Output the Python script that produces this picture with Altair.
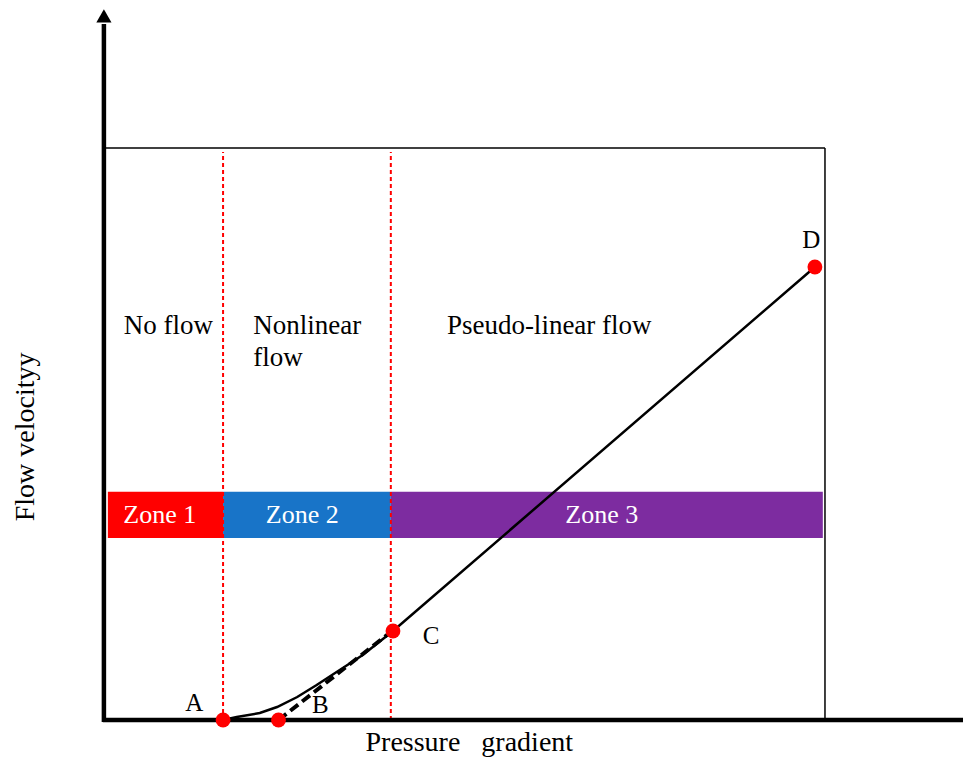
import altair as alt
import pandas as pd

# ---------------- data (chart units: x = pressure gradient, y = flow velocity) ----------------
zone_names = ["Zone 1", "Zone 2", "Zone 3"]
zone_start = [0.4, 16.4, 39.7]
zone_end = [16.4, 39.7, 99.7]
zone_colors = ["#FF0000", "#1874C8", "#7D2CA0"]
zone_band = [31.8, 39.9]
zone_label_x = [7.6, 27.4, 69.0]

boundary_x = [16.4, 39.7]
boundary_top = 99.3

box_right = 100.0
box_top = 100.0

axis_x_end = 120.5
axis_y_end = 121.7
arrow_y_tip = 123.1

curve_x = [16.4, 18.3, 21.5, 23.9, 26.7, 29.4, 32.6, 35.8, 40.0, 98.6]
curve_y = [0.0, 0.52, 1.22, 2.27, 4.02, 6.12, 8.74, 11.36, 15.56, 79.2]

tangent_x = [24.1, 39.2]
tangent_y = [0.0, 14.9]

point_names = ["A", "B", "C", "D"]
point_x = [16.4, 24.1, 40.0, 98.6]
point_y = [0.0, 0.0, 15.56, 79.2]
label_x = [12.4, 29.9, 45.3, 98.1]
label_y = [3.0, 2.6, 14.7, 83.9]

center_text = ["No flow", "Pseudo-linear flow"]
center_x = [8.8, 61.7]
center_y = [68.9, 68.9]
left_text = ["Nonlinear", "flow"]
left_x = [20.6, 20.6]
left_y = [68.9, 63.3]

x_title = "Pressure\u00a0\u00a0 gradient"
x_title_pos = [50.6, -4.0]
y_title = "Flow velocityy"
y_title_pos = [-11.0, 49.5]

# ---------------- scales ----------------
XS = alt.Scale(domain=[-13.47, 119.17], nice=False, zero=False)
YS = alt.Scale(domain=[-7.17, 124.48], nice=False, zero=False)
FONT = "Liberation Serif"


def X(f="x"):
    return alt.X(f"{f}:Q", scale=XS, axis=None)


def Y(f="y"):
    return alt.Y(f"{f}:Q", scale=YS, axis=None)


zones = pd.DataFrame({"name": zone_names, "x": zone_start, "x2": zone_end,
                      "color": zone_colors, "lx": zone_label_x})
zones["y"] = zone_band[0]
zones["y2"] = zone_band[1]
zones["ly"] = (zone_band[0] + zone_band[1]) / 2

band = alt.Chart(zones).mark_rect().encode(
    x=X(), x2="x2:Q", y=Y(), y2="y2:Q",
    color=alt.Color("color:N", scale=None))
band_text = alt.Chart(zones).mark_text(font=FONT, fontSize=26, color="white",
                                       baseline="middle").encode(
    x=X("lx"), y=Y("ly"), text="name:N")

# box
box_h = alt.Chart(pd.DataFrame({"x": [0.0], "x2": [box_right], "y": [box_top]})).mark_rule(
    color="black", strokeWidth=1.5).encode(x=X(), x2="x2:Q", y=Y())
box_v = alt.Chart(pd.DataFrame({"x": [box_right], "y": [0.0], "y2": [box_top]})).mark_rule(
    color="black", strokeWidth=1.5).encode(x=X(), y=Y(), y2="y2:Q")

# red dashed zone boundaries
bounds = pd.DataFrame({"x": boundary_x, "y": [0.0, 0.0], "y2": [boundary_top] * 2})
bound_rules = alt.Chart(bounds).mark_rule(color="#FF0000", strokeWidth=2,
                                          strokeDash=[4, 3]).encode(
    x=X(), y=Y(), y2="y2:Q")

# curve
curve = alt.Chart(pd.DataFrame({"x": curve_x, "y": curve_y, "o": range(len(curve_x))})).mark_line(
    color="black", strokeWidth=2.5).encode(x=X(), y=Y(), order="o:Q")
tangent = alt.Chart(pd.DataFrame({"x": tangent_x, "y": tangent_y, "o": [0, 1]})).mark_line(
    color="black", strokeWidth=4, strokeDash=[10, 5]).encode(x=X(), y=Y(), order="o:Q")

# axes
x_axis = alt.Chart(pd.DataFrame({"x": [-0.3], "x2": [axis_x_end], "y": [0.0]})).mark_rule(
    color="black", strokeWidth=4.5).encode(x=X(), x2="x2:Q", y=Y())
y_axis = alt.Chart(pd.DataFrame({"x": [-0.15], "y": [-0.35], "y2": [axis_y_end]})).mark_rule(
    color="black", strokeWidth=4.5).encode(x=X(), y=Y(), y2="y2:Q")
y_arrow = alt.Chart(pd.DataFrame({"x": [-0.15], "y": [arrow_y_tip]})).mark_point(
    shape="triangle-up", filled=True, color="black", size=230, opacity=1).encode(x=X(), y=Y())

# points
pts = pd.DataFrame({"name": point_names, "x": point_x, "y": point_y,
                    "lx": label_x, "ly": label_y})
points = alt.Chart(pts).mark_point(filled=True, color="#FF0000", size=220,
                                   opacity=1, shape="circle").encode(x=X(), y=Y())
point_labels = alt.Chart(pts).mark_text(font=FONT, fontSize=25, color="black",
                                        baseline="middle").encode(
    x=X("lx"), y=Y("ly"), text="name:N")

# region labels
ctext = alt.Chart(pd.DataFrame({"t": center_text, "x": center_x, "y": center_y})).mark_text(
    font=FONT, fontSize=27, color="black", baseline="middle", align="center").encode(
    x=X(), y=Y(), text="t:N")
ltext = alt.Chart(pd.DataFrame({"t": left_text, "x": left_x, "y": left_y})).mark_text(
    font=FONT, fontSize=27, color="black", baseline="middle", align="left").encode(
    x=X(), y=Y(), text="t:N")

# axis titles
xt = alt.Chart(pd.DataFrame({"t": [x_title], "x": [x_title_pos[0]], "y": [x_title_pos[1]]})).mark_text(
    font=FONT, fontSize=28, color="black", baseline="middle", align="center").encode(
    x=X(), y=Y(), text="t:N")
yt = alt.Chart(pd.DataFrame({"t": [y_title], "x": [y_title_pos[0]], "y": [y_title_pos[1]]})).mark_text(
    font=FONT, fontSize=28, color="black", baseline="middle", align="center", angle=270).encode(
    x=X(), y=Y(), text="t:N")

chart = alt.layer(
    band, band_text, box_h, box_v, bound_rules, curve, tangent,
    x_axis, y_axis, y_arrow, points, point_labels, ctext, ltext, xt, yt
).properties(
    width=955, height=753, padding=0, background="white",
    autosize=alt.AutoSizeParams(type="none")
).configure_view(stroke=None, strokeWidth=0)

chart.save("out.html", embed_options={"renderer": "svg", "actions": False})
